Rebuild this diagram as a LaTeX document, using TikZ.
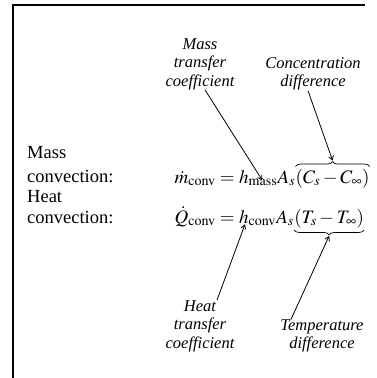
\documentclass[tikz,border=0pt]{standalone}
\usepackage{mathptmx}
\usepackage[no-math]{fontspec}
\setmainfont{Liberation Serif}
\usetikzlibrary{decorations.pathreplacing,arrows.meta,calc}
\tikzset{
  lbl/.style={font=\fontsize{16.5}{18.5}\selectfont\itshape, align=center, inner sep=0pt},
  side/.style={font=\fontsize{18.5}{24}\selectfont, align=left, inner sep=0pt, anchor=base west},
  eq/.style={font=\fontsize{19}{22}\selectfont, inner sep=0pt, anchor=base west},
  pointer/.style={line width=0.8pt, -{Straight Barb[length=4pt,width=5pt]}},
  bracebox/.style={decorate, line width=0.7pt, decoration={brace, amplitude=5pt}},
}
\begin{document}
\begin{tikzpicture}[x=1pt,y=-1pt]
\useasboundingbox (0,0) rectangle (377,378);
% frame
\coordinate (fa) at (13,378);
\coordinate (fb) at (13,5);
\coordinate (fc) at (365,5);
\draw[line width=1.3pt] (fa) -- (fb) -- (fc);

% top labels
\node[lbl] (massLbl) at (200,64) {Mass\\transfer\\coefficient};
\node[lbl] (concLbl) at (313,74) {Concentration\\difference};

% side labels
\node[side] (massSide) at (27,158) {Mass};
\node[side] (massConv) at (27,182) {convection:};
\node[side] (heatSide) at (27,202) {Heat};
\node[side] (heatConv) at (27,223) {convection:};

% mass equation
\node[eq, anchor=base east] (m1) at (239,183) {$\dot{m}_{\mathrm{conv}} = {}$};
\node[eq] (hm) at (m1.base east) {$h_{\mathrm{mass}}$};
\node[eq] (as1) at (hm.base east) {$A_s$};
\node[eq] (cd) at (as1.base east) {$(C_s - C_\infty)$};

% heat equation
\node[eq, anchor=base east] (q1) at (239,223) {$\dot{Q}_{\mathrm{conv}} = {}$};
\node[eq] (hc) at (q1.base east) {$h_{\mathrm{conv}}$};
\node[eq] (as2) at (hc.base east) {$A_s$};
\node[eq] (td) at (as2.base east) {$(T_s - T_\infty)$};

% braces
\draw[bracebox] ([yshift=2pt]cd.north west) -- ([yshift=2pt]cd.north east);
\coordinate (cdtip) at ([yshift=8pt]cd.north);
\draw[bracebox] ([yshift=-2pt]td.south east) -- ([yshift=-2pt]td.south west);
\coordinate (tdtip) at ([yshift=-8pt]td.south);

% bottom labels
\node[lbl] (heatLbl) at (200,326) {Heat\\transfer\\coefficient};
\node[lbl] (tempLbl) at (322,336) {Temperature\\difference};

% pointers
\coordinate (hmtip) at ($(hm.south east)!0.5!(hm.south west)+(4,-6)$);
\coordinate (hctip) at ($(hc.south west)+(6,-2)$);
\draw[pointer] (massLbl.south -| 205,0) -- (hmtip);
\draw[pointer] (concLbl.south -| 308,0) -- (cdtip);
\draw[pointer] (heatLbl.north -| 217,0) -- (hctip);
\draw[pointer] (tempLbl.north -| 291,0) -- (tdtip);
\end{tikzpicture}
\end{document}
